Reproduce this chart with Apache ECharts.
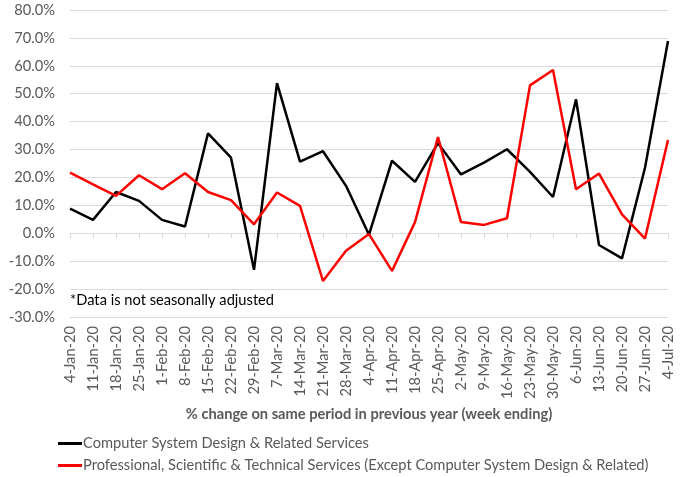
<!DOCTYPE html>
<html>
<head>
<meta charset="utf-8">
<script src="https://cdn.jsdelivr.net/npm/echarts@6/dist/echarts.min.js"></script>
<style>
  html, body { margin: 0; padding: 0; background: #fff; }
  #box1 { width: 694px; height: 477px; }
</style>
</head>
<body>
<div id="box1"></div>
<script>
var weeks = ['4-Jan-20', '11-Jan-20', '18-Jan-20', '25-Jan-20', '1-Feb-20', '8-Feb-20', '15-Feb-20',
    '22-Feb-20', '29-Feb-20', '7-Mar-20', '14-Mar-20', '21-Mar-20', '28-Mar-20', '4-Apr-20',
    '11-Apr-20', '18-Apr-20', '25-Apr-20', '2-May-20', '9-May-20', '16-May-20', '23-May-20',
    '30-May-20', '6-Jun-20', '13-Jun-20', '20-Jun-20', '27-Jun-20', '4-Jul-20']

// % change, computer system design
var computerDesign = [8.8, 4.8, 14.8, 11.6, 4.8, 2.4, 35.8, 27.1, -13.1, 53.8, 25.7, 29.4, 17.0, -0.5,
    26.0, 18.4, 32.3, 21.1, 25.3, 30.1, 22.0, 13.0, 48.0, -4.2, -9.0, 23.5, 68.9]

// % change, professional/scientific/technical (ex computer)
var professional = [21.7, 17.5, 13.4, 20.8, 15.8, 21.5, 14.8, 11.9, 3.2, 14.6, 9.8, -17.1, -6.3, -0.3,
    -13.5, 4.0, 34.5, 4.0, 3.0, 5.4, 53.0, 58.5, 15.8, 21.4, 6.8, -1.9, 33.4]

var seriesNames = ['Computer System Design & Related Services',
    'Professional, Scientific & Technical Services (Except Computer System Design & Related)']

var font = 'Lato, "Open Sans", sans-serif'
var fs = 14.67

var chart = echarts.init(document.getElementById('box1'))
var option = {
    animation: false,
    textStyle: { fontFamily: font },
    grid: { left: 70, right: 26, top: 10, bottom: 160 },
    legend: {
        orient: 'vertical',
        left: 58,
        top: 436,
        padding: 0,
        itemGap: 7,
        itemWidth: 24,
        itemHeight: 3,
        icon: 'rect',
        textStyle: { fontFamily: font, fontSize: fs, color: '#595959', padding: [0, 0, 0, -4] },
        data: seriesNames
    },
    graphic: [{
        type: 'text',
        left: 70,
        top: 293,
        style: { text: '*Data is not seasonally adjusted', font: fs + 'px ' + font, fill: '#000' }
    }],
    xAxis: [
        {
            type: 'category',
            data: weeks,
            boundaryGap: false,
            axisLine: { show: false, onZero: false },
            axisTick: { show: false },
            axisLabel: { rotate: 90, fontSize: fs, color: '#595959', margin: 9, interval: 0 },
            name: '% change on same period in previous year (week ending)',
            nameLocation: 'middle',
            nameGap: 86,
            nameTextStyle: { fontSize: fs, fontWeight: 'bold', color: '#595959' }
        },
        {
            type: 'category',
            data: weeks,
            position: 'top',
            boundaryGap: false,
            axisLine: { show: true, onZero: true, lineStyle: { color: '#d9d9d9', width: 1 } },
            axisTick: { show: true, inside: true, length: 5, interval: 0, lineStyle: { color: '#d9d9d9' } },
            axisLabel: { show: false }
        }
    ],
    yAxis: {
        type: 'value',
        min: -30,
        max: 80,
        interval: 10,
        axisLine: { show: false },
        axisTick: { show: false },
        axisLabel: {
            fontSize: fs,
            color: '#595959',
            margin: 15,
            formatter: function (v) { return v.toFixed(1) + '%' }
        },
        splitLine: { lineStyle: { color: '#d9d9d9', width: 1 } }
    },
    series: [
        {
            name: seriesNames[0],
            type: 'line',
            data: computerDesign,
            symbol: 'none',
            color: '#000000',
            lineStyle: { width: 2.5, color: '#000000' }
        },
        {
            name: seriesNames[1],
            type: 'line',
            data: professional,
            symbol: 'none',
            color: '#ff0000',
            lineStyle: { width: 2.5, color: '#ff0000' }
        }
    ]
}
chart.setOption(option)
</script>
</body>
</html>
